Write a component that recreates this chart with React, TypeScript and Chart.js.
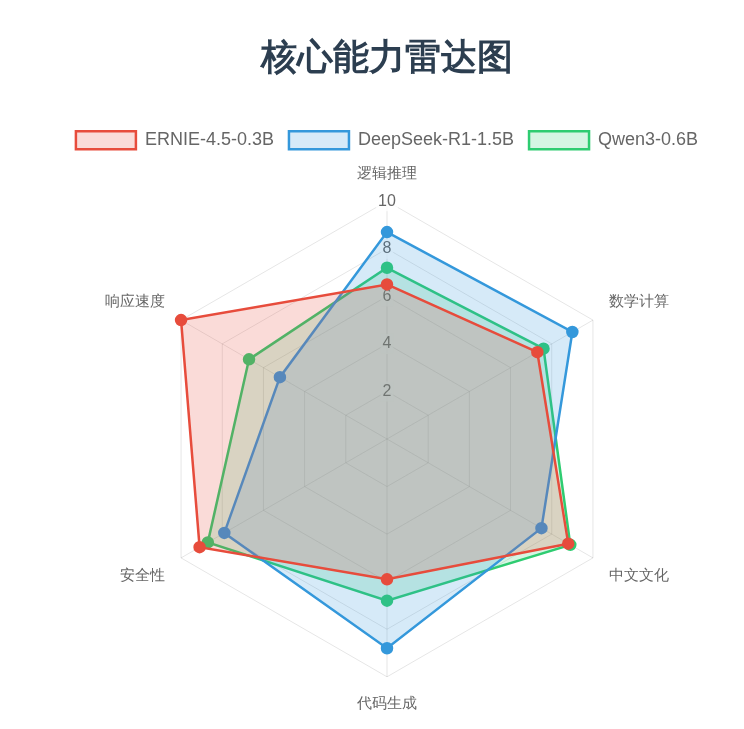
import { useEffect, useRef } from 'react';
import { Chart, ChartConfiguration, registerables } from 'chart.js';

Chart.register(...registerables);

const dimensions = ['逻辑推理', '数学计算', '中文文化', '代码生成', '安全性', '响应速度'];
const ernieScores = [6.5, 7.3, 8.8, 5.9, 9.1, 10];
const deepseekScores = [8.7, 9.0, 7.5, 8.8, 7.9, 5.2];
const qwenScores = [7.2, 7.6, 8.9, 6.8, 8.7, 6.7];

const models = [
  { label: 'ERNIE-4.5-0.3B', data: ernieScores, color: '231, 76, 60' },
  { label: 'DeepSeek-R1-1.5B', data: deepseekScores, color: '52, 152, 219' },
  { label: 'Qwen3-0.6B', data: qwenScores, color: '46, 204, 113' }
];

export default function App() {
  const canvasRef = useRef<HTMLCanvasElement | null>(null);

  useEffect(() => {
    if (!canvasRef.current) {
      return;
    }
    const ctx = canvasRef.current.getContext('2d');
    if (!ctx) {
      return;
    }
    const config: ChartConfiguration<'radar', number[], string> = {
      type: 'radar',
      data: {
        labels: dimensions,
        datasets: models.map((m) => ({
          label: m.label,
          data: m.data,
          borderColor: `rgb(${m.color})`,
          backgroundColor: `rgba(${m.color}, 0.2)`,
          pointBackgroundColor: `rgb(${m.color})`,
          pointBorderColor: `rgb(${m.color})`,
          borderWidth: 2.5,
          pointRadius: 5
        }))
      },
      options: {
        responsive: true,
        maintainAspectRatio: false,
        animation: false,
        layout: {
          padding: { top: 20, left: 30, right: 0, bottom: 16 }
        },
        scales: {
          r: {
            min: 0,
            max: 10,
            ticks: {
              stepSize: 2,
              color: '#666',
              font: { size: 16 }
            },
            pointLabels: {
              color: '#666',
              font: { size: 15 },
              padding: 8
            },
            grid: { color: 'rgba(0, 0, 0, 0.1)' },
            angleLines: { color: 'rgba(0, 0, 0, 0.1)' }
          }
        },
        plugins: {
          title: {
            display: true,
            text: '核心能力雷达图',
            color: '#2c3e50',
            font: { size: 36, weight: 'bold' },
            padding: { top: 17, bottom: 36 }
          },
          // empty spacer between legend and radar
          subtitle: {
            display: true,
            text: '',
            weight: 500,
            font: { size: 1, lineHeight: 1 },
            padding: { top: 3, bottom: 2 }
          },
          legend: {
            labels: {
              color: '#666',
              font: { size: 18 },
              boxWidth: 60,
              boxHeight: 18,
              padding: 15
            }
          }
        }
      }
    };

    const chart = new Chart(ctx, config);
    return () => {
      chart.destroy();
    };
  }, []);

  return (
    <div style={{ position: 'absolute', left: 0, top: 0, width: '744px', height: '729px' }}>
      <canvas ref={canvasRef} aria-label="核心能力雷达图" role="img" />
    </div>
  );
}
